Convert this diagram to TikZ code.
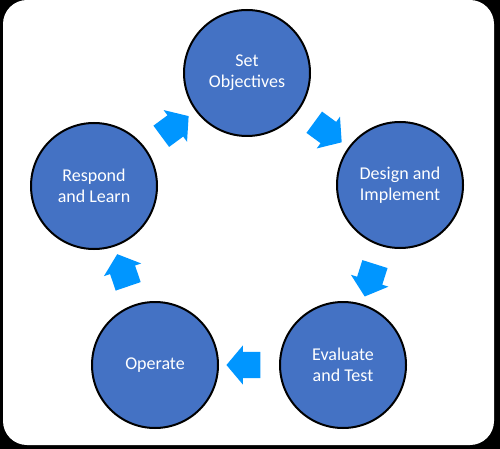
\documentclass[tikz,border=0pt]{standalone}
\usepackage{fontspec}
\setmainfont{Carlito}
\usetikzlibrary{shapes.arrows,calc}
\definecolor{circfill}{HTML}{4472C4}
\definecolor{arrowblue}{HTML}{0096FF}
\begin{document}
\begin{tikzpicture}[x=1pt,y=-1pt,
 stage/.style={circle, draw=black, line width=2pt, fill=circfill, minimum size=126pt, inner sep=0pt, align=center, text=white, font=\fontsize{18pt}{21pt}\selectfont},
 flow/.style={single arrow, fill=arrowblue, draw=none, minimum height=34pt, single arrow head extend=6.5pt, single arrow tip angle=100, inner xsep=0pt, inner ysep=13pt, sloped, allow upside down}]
\useasboundingbox (0,0) rectangle (500,449);
\fill[black] (0,0) rectangle (500,449);
\fill[white, rounded corners=24pt] (3,0) rectangle (494,445);
\node[stage] (set) at (247,73) {Set\\Objectives};
\node[stage] (des) at (400,185) {Design and\\Implement};
\node[stage] (eva) at (343,365) {Evaluate\\and Test};
\node[stage] (ope) at (155,365) {Operate};
\node[stage] (res) at (94,186) {Respond\\and Learn};
\path (res) -- node[flow] {} (set);
\path (set) -- node[flow] {} (des);
\path (des) -- node[flow] {} (eva);
\path (eva) -- node[flow] {} (ope);
\path (ope) -- node[flow] {} (res);
\end{tikzpicture}
\end{document}
